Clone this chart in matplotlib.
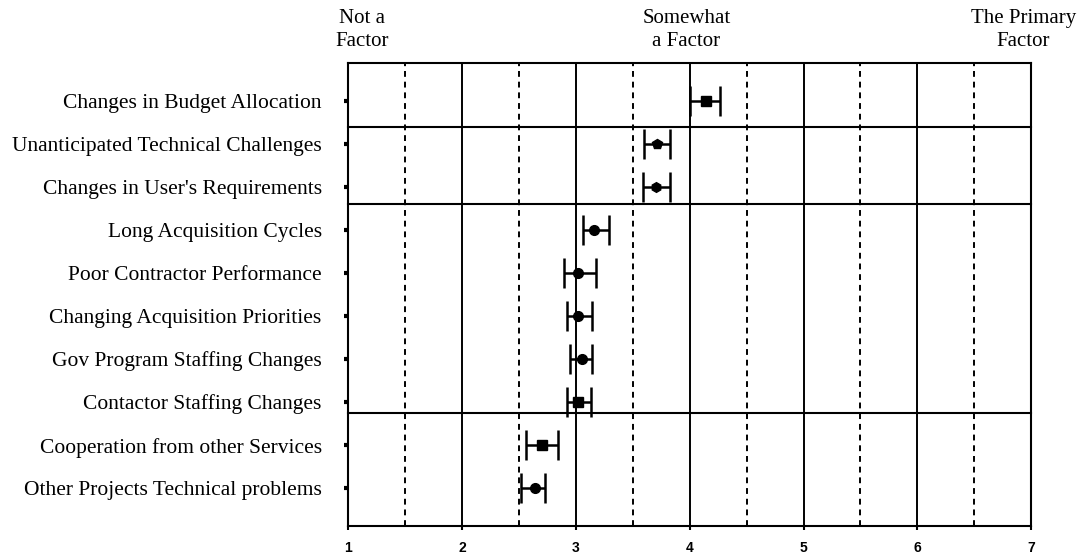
import numpy as np
import matplotlib.pyplot as plt

# survey factors, top to bottom
FACTORS = ["Changes in Budget Allocation", "Unanticipated Technical Challenges",
           "Changes in User's Requirements", "Long Acquisition Cycles",
           "Poor Contractor Performance", "Changing Acquisition Priorities",
           "Gov Program Staffing Changes", "Contactor Staffing Changes",
           "Cooperation from other Services", "Other Projects Technical problems"]
MEAN = [4.14, 3.71, 3.70, 3.16, 3.02, 3.02, 3.05, 3.02, 2.70, 2.64]
LOW = [4.00, 3.60, 3.59, 3.06, 2.90, 2.92, 2.95, 2.92, 2.56, 2.52]
HIGH = [4.27, 3.83, 3.83, 3.29, 3.18, 3.14, 3.14, 3.13, 2.84, 2.73]
MARKERS = ['s', 'p', 'h', 'o', 'o', 'o', 'o', 's', 's', 'o']
SCALE_LABELS = [(1.12, "Not a\nFactor"), (3.97, "Somewhat\na Factor"),
                (6.93, "The Primary\nFactor")]
GROUP_LINES = [1.6, 3.4, 8.25]

SERIF = ['Liberation Serif', 'DejaVu Serif']

fig = plt.figure(figsize=(10.81, 5.56), dpi=100)
ax = fig.add_axes([0.322, 0.054, 0.632, 0.833])

ypos = np.arange(1, len(FACTORS) + 1)

for x in range(2, 7):
    ax.axvline(x, color='black', lw=1.4, zorder=1)
for x in np.arange(1.5, 7, 1.0):
    ax.axvline(x, color='black', lw=1.4, ls=(0, (3, 2.5)), zorder=1)
for y in GROUP_LINES:
    ax.axhline(y, color='black', lw=1.5, zorder=1, clip_on=False)

for i, y in enumerate(ypos):
    m = MEAN[i]
    ax.errorbar([m], [y], xerr=[[m - LOW[i]], [HIGH[i] - m]], fmt=MARKERS[i],
                color='black', mfc='black', mec='black', ms=7, lw=1.8,
                capsize=11, capthick=1.8, zorder=3)

ax.set_xlim(1, 7)
ax.set_ylim(10.88, 0.12)
ax.set_xticks(range(1, 8))
ax.set_xticklabels([str(v) for v in range(1, 8)], fontweight='bold',
                   fontsize=10, family=['Liberation Sans', 'DejaVu Sans'])
ax.set_yticks(ypos)
ax.set_yticklabels(FACTORS, fontsize=15.5, family=SERIF)
ax.tick_params(axis='y', length=3, width=3, pad=16)
ax.tick_params(axis='x', length=3, width=1.5, pad=8)
for s in ax.spines.values():
    s.set_linewidth(1.5)

for x, txt in SCALE_LABELS:
    ax.text(x, 1.025, txt, transform=ax.get_xaxis_transform(), ha='center',
            va='bottom', fontsize=15, family=SERIF, linespacing=1.3)

fig.savefig("out.png", dpi=100)
